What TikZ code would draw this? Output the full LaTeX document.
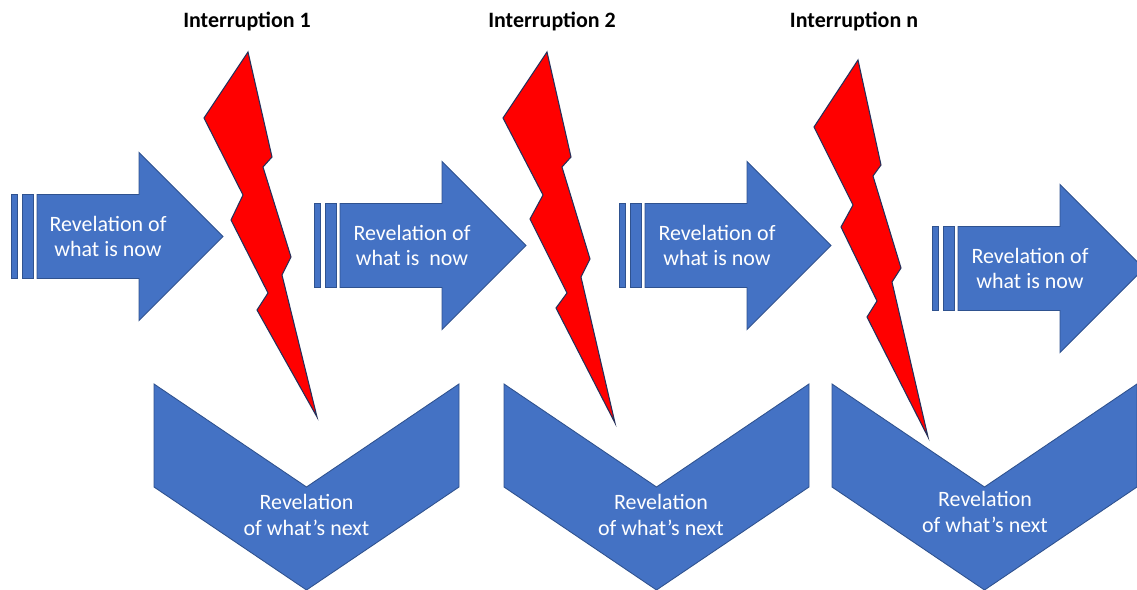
\documentclass[tikz,border=0pt]{standalone}
\usepackage{fontspec}
\setmainfont{Carlito}
\usepackage{tikz}
\definecolor{fillblue}{HTML}{4472C4}
\definecolor{edgeblue}{HTML}{2F528F}
\definecolor{boltred}{HTML}{FF0000}
\definecolor{boltedge}{HTML}{23305A}
\tikzset{
  lab/.style={text=white, font=\fontsize{12.5}{14.5}\selectfont, align=center, inner sep=0pt},
  head/.style={text=black, font=\bfseries\fontsize{12.5}{15}\selectfont, inner sep=0pt},
  blueShape/.style={fill=fillblue, draw=edgeblue, line width=0.5pt, line join=miter},
  boltShape/.style={fill=boltred, draw=boltedge, line width=0.6pt, line join=miter}
}

\begin{document}
\begin{tikzpicture}[x=0.02cm, y=-0.02cm]
\useasboundingbox (0,0) rectangle (1137,590);
\clip (0,0) rectangle (1137,590);

% headings
\node[head] (title1) at (247,22) {Interruption 1};
\node[head] (title2) at (552,22) {Interruption 2};
\node[head] (titlen) at (854,22) {Interruption n};

% arrow 1
\begin{scope}[shift={(11,236.5)}]
\draw[blueShape] (0,-42) rectangle (6,42);
\draw[blueShape] (11,-42) rectangle (22,42);
\draw[blueShape] (26,-42) -- (128,-42) -- (128,-84) -- (212,0) -- (128,84) -- (128,42) -- (26,42) -- cycle;
\node[lab] (now1) at (97,0) {Revelation of\\what is now};
\end{scope}

% arrow 2
\begin{scope}[shift={(314,245.5)}]
\draw[blueShape] (0,-42) rectangle (6,42);
\draw[blueShape] (11,-42) rectangle (22,42);
\draw[blueShape] (26,-42) -- (128,-42) -- (128,-84) -- (212,0) -- (128,84) -- (128,42) -- (26,42) -- cycle;
\node[lab] (now2) at (98,0) {Revelation of\\what is\ \ now};
\end{scope}

% arrow 3
\begin{scope}[shift={(619,245.5)}]
\draw[blueShape] (0,-42) rectangle (6,42);
\draw[blueShape] (11,-42) rectangle (22,42);
\draw[blueShape] (26,-42) -- (128,-42) -- (128,-84) -- (212,0) -- (128,84) -- (128,42) -- (26,42) -- cycle;
\node[lab] (now3) at (98,0) {Revelation of\\what is now};
\end{scope}

% arrow 4
\begin{scope}[shift={(932,268.5)}]
\draw[blueShape] (0,-42) rectangle (6,42);
\draw[blueShape] (11,-42) rectangle (22,42);
\draw[blueShape] (26,-42) -- (128,-42) -- (128,-84) -- (212,0) -- (128,84) -- (128,42) -- (26,42) -- cycle;
\node[lab] (now4) at (98,0) {Revelation of\\what is now};
\end{scope}

% chevrons
\begin{scope}[shift={(154,384)}]
\draw[blueShape] (0,0) -- (152.5,103) -- (305,0) -- (305,103) -- (152.5,206) -- (0,103) -- cycle;
\node[lab] (next1) at (152.5,131) {Revelation\\of what’s next};
\end{scope}
\begin{scope}[shift={(504,384)}]
\draw[blueShape] (0,0) -- (152.5,103) -- (305,0) -- (305,103) -- (152.5,206) -- (0,103) -- cycle;
\node[lab] (next2) at (157,131) {Revelation\\of what’s next};
\end{scope}
\begin{scope}[shift={(832,384)}]
\draw[blueShape] (0,0) -- (152.5,103) -- (305,0) -- (305,103) -- (152.5,206) -- (0,103) -- cycle;
\node[lab] (next3) at (153,128) {Revelation\\of what’s next};
\end{scope}

% lightning
\draw[boltShape] (248,52) -- (272,157) -- (263,167) -- (291,257) -- (282,275) -- (317,417)
  -- (257,310) -- (268,293) -- (231,220) -- (243,195) -- (204,118) -- cycle;
\draw[boltShape] (547,52) -- (571,157) -- (562,167) -- (590,259) -- (581,277) -- (615,423)
  -- (556,308) -- (567,293) -- (530,219) -- (543,195) -- (503,118) -- cycle;
\draw[boltShape] (858,60) -- (881,165) -- (873,176) -- (901,268) -- (892,282) -- (928,437)
  -- (867,317) -- (877,301) -- (841,227) -- (853,205) -- (814,127) -- cycle;
\end{tikzpicture}
\end{document}
